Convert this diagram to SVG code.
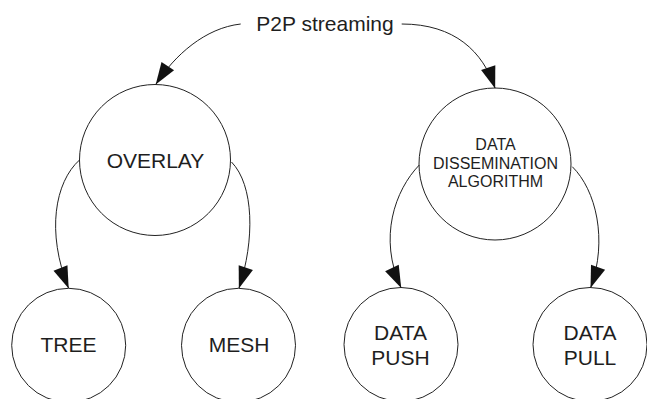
<svg xmlns="http://www.w3.org/2000/svg" width="647" height="399" viewBox="0 0 647 399">
<style>
.node{fill:#fff;stroke:#222;stroke-width:1}
.conn{fill:none;stroke:#222;stroke-width:1}
text{font-family:"Liberation Sans",Arial,sans-serif;fill:#1e1e1e;text-anchor:middle}
.big{font-size:21px}
.small{font-size:16px}
</style>
<defs>
<marker id="arrow" markerUnits="userSpaceOnUse" viewBox="0 0 22 15" markerWidth="22" markerHeight="15" refX="21.5" refY="7.5" orient="auto" overflow="visible">
<path d="M0,0 L22,7.5 L0,15 z" fill="#111"/>
</marker>
</defs>
<rect width="647" height="399" fill="#fff"/>
<g id="root">
<text class="big" x="325" y="31">P2P streaming</text>
</g>
<g id="overlay">
<circle class="node" cx="155" cy="160" r="75.5"/>
<text class="big" x="155.5" y="167.5">OVERLAY</text>
</g>
<g id="dda">
<circle class="node" cx="495" cy="164" r="76"/>
<text class="small" x="495.5" y="150">DATA</text>
<text class="small" x="495.5" y="169">DISSEMINATION</text>
<text class="small" x="495.5" y="187">ALGORITHM</text>
</g>
<g id="tree">
<circle class="node" cx="68.7" cy="345.3" r="57"/>
<text class="big" x="68.5" y="352">TREE</text>
</g>
<g id="mesh">
<circle class="node" cx="238.5" cy="345.3" r="57"/>
<text class="big" x="239" y="352">MESH</text>
</g>
<g id="push">
<circle class="node" cx="401" cy="344.5" r="57"/>
<text class="big" x="400.5" y="340">DATA</text>
<text class="big" x="400.5" y="365">PUSH</text>
</g>
<g id="pull">
<circle class="node" cx="590" cy="344.5" r="57"/>
<text class="big" x="590" y="339.5">DATA</text>
<text class="big" x="590" y="364.5">PULL</text>
</g>
<g id="connectors">
<path class="conn" d="M240.7,24 C205,28 175,55 156,84" marker-end="url(#arrow)"/>
<path class="conn" d="M401.7,24 C455,24 483,52 495,88" marker-end="url(#arrow)"/>
<path class="conn" d="M79.5,160 C55,182 46,232 68.5,288" marker-end="url(#arrow)"/>
<path class="conn" d="M231.5,162 C254,185 255,240 239,288" marker-end="url(#arrow)"/>
<path class="conn" d="M419.3,165 C395,190 378,238 401,287.5" marker-end="url(#arrow)"/>
<path class="conn" d="M572.3,166.7 C596,190 608,240 590.7,287.5" marker-end="url(#arrow)"/>
</g>
</svg>
